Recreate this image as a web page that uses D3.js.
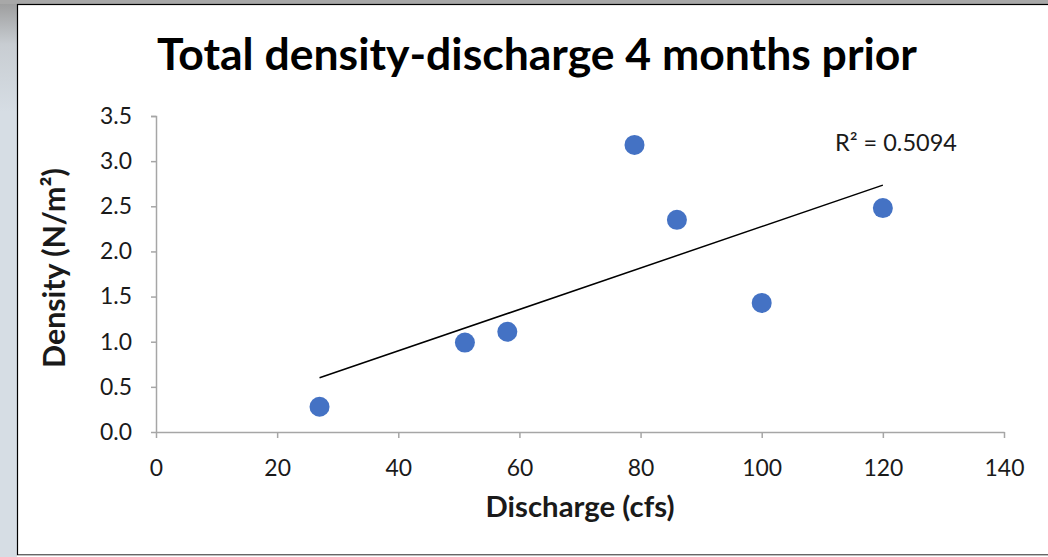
<!DOCTYPE html>
<html><head><meta charset="utf-8">
<script src="https://cdn.jsdelivr.net/npm/d3@7"></script>
<style>body{margin:0;background:#fff}svg{display:block}</style>
</head><body>
<script>
const discharge = [27, 51, 58, 79, 86, 100, 120];
const density = [0.28, 0.99, 1.11, 3.18, 2.35, 1.43, 2.48];
const xTicks = [0, 20, 40, 60, 80, 100, 120, 140];
const yTicks = [0, 0.5, 1.0, 1.5, 2.0, 2.5, 3.0, 3.5];
const titleText = "Total density-discharge 4 months prior";
const xTitle = "Discharge (cfs)";
const yTitle = "Density (N/m²)";
const r2Label = "R² = 0.5094";

const W = 1048, H = 557;
const svg = d3.select("body").append("svg").attr("width", W).attr("height", H);
const font = "Lato, Open Sans, sans-serif";

// measure helper: font size that gives target width
function fitSize(str, weight, targetW) {
  const t = svg.append("text").text(str).style("font-family",font).style("font-weight",weight).style("font-size","100px");
  const w = t.node().getComputedTextLength(); t.remove();
  return 100*targetW/w;
}

// background frame
const defs = svg.append("defs");
const g1 = defs.append("linearGradient").attr("id","lg").attr("x1",0).attr("x2",0).attr("y1",0).attr("y2",1);
g1.append("stop").attr("offset","0").attr("stop-color","#9a9a9a");
g1.append("stop").attr("offset","0.08").attr("stop-color","#c8cdd2");
g1.append("stop").attr("offset","0.2").attr("stop-color","#d6dde4");
g1.append("stop").attr("offset","1").attr("stop-color","#d6dde4");
svg.append("rect").attr("x",0).attr("y",0).attr("width",17).attr("height",H).attr("fill","url(#lg)");
svg.append("rect").attr("x",0).attr("y",0).attr("width",W).attr("height",4).attr("fill","#a8a8a8");
svg.append("rect").attr("x",17.5).attr("y",4.5).attr("width",W).attr("height",550.5).attr("fill","#fff")
  .attr("stroke","#000").attr("stroke-width",1.2);
svg.append("line").attr("x1",17).attr("x2",W).attr("y1",555.5).attr("y2",555.5).attr("stroke","#bfbfbf");

const x = d3.scaleLinear().domain([0, 140]).range([156, 1004]);
const y = d3.scaleLinear().domain([0, 3.5]).range([432, 116]);

const tickFs = fitSize("1.0", "normal", 32);
const xAxis = svg.append("g").attr("transform","translate(0,432)")
  .call(d3.axisBottom(x).tickValues(xTicks).tickSize(6).tickSizeOuter(6).tickPadding(22).tickFormat(d3.format("d")));
const yAxis = svg.append("g").attr("transform","translate(156,0)")
  .call(d3.axisLeft(y).tickValues(yTicks).tickSize(5).tickSizeOuter(5).tickPadding(19).tickFormat(d3.format(".1f")));
[xAxis, yAxis].forEach(a => {
  a.selectAll("path,line").attr("stroke","#a6a6a6").attr("stroke-width",1.5);
  a.selectAll("text").attr("fill","#1a1a1a").style("font-family",font).style("font-size",tickFs+"px");
});
xAxis.selectAll("text").attr("dy","0.71em");
yAxis.select(".domain").attr("d","M-5,116.5H0.5V432.5");
xAxis.select(".domain").attr("d","M156,0.5H1004.5");

// trendline (least squares)
const n = discharge.length;
const mx = d3.mean(discharge), my = d3.mean(density);
let sxy = 0, sxx = 0;
for (let i = 0; i < n; i++) { sxy += (discharge[i]-mx)*(density[i]-my); sxx += (discharge[i]-mx)**2; }
const slope = sxy/sxx, icpt = my - slope*mx;
const x0 = d3.min(discharge), x1 = d3.max(discharge);
svg.append("line").attr("x1",x(x0)).attr("y1",y(icpt+slope*x0)).attr("x2",x(x1)).attr("y2",y(icpt+slope*x1))
  .attr("stroke","#000").attr("stroke-width",1.5);

svg.append("g").selectAll("circle").data(discharge).join("circle")
  .attr("cx",(d)=>x(d)).attr("cy",(d,i)=>y(density[i])).attr("r",10).attr("fill","#4472C4");

svg.append("text").attr("x",835).attr("y",151).text(r2Label)
  .style("font-family",font).style("font-size",fitSize(r2Label,"normal",122)+"px").attr("fill","#1a1a1a");

// title
svg.append("text").attr("x",537).attr("y",70).attr("text-anchor","middle").text(titleText)
  .style("font-family",font).style("font-weight","bold").style("font-size",fitSize(titleText,"bold",760)+"px").attr("fill","#000");

svg.append("text").attr("x",580).attr("y",517).attr("text-anchor","middle").text(xTitle)
  .style("font-family",font).style("font-weight","bold").style("font-size",fitSize(xTitle,"bold",189)+"px").attr("fill","#1a1a1a");
svg.append("text").attr("transform","translate(65,268) rotate(-90)").attr("text-anchor","middle").text(yTitle)
  .style("font-family",font).style("font-weight","bold").style("font-size",fitSize(yTitle,"bold",200)+"px").attr("fill","#1a1a1a");
</script>
</body></html>
